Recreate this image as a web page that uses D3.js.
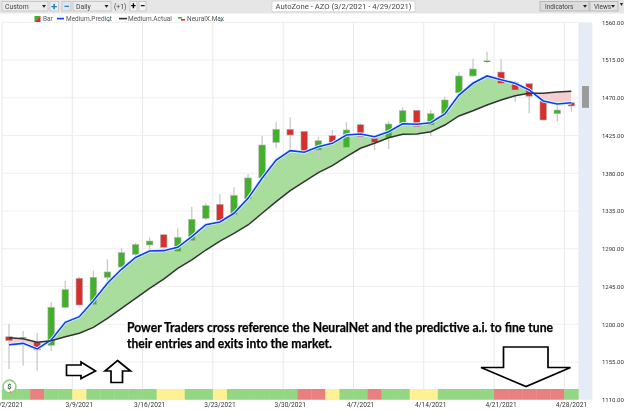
<!DOCTYPE html>
<html><head><meta charset="utf-8">
<script src="https://cdn.jsdelivr.net/npm/d3@7/dist/d3.min.js"></script>
<style>html,body{margin:0;padding:0;background:#fff;overflow:hidden}svg{display:block}text{font-family:Roboto,"Noto Sans",sans-serif}</style>
</head><body><svg id="c" width="624" height="412"></svg>
<script>
const dates=["3/2/2021","3/3/2021","3/4/2021","3/5/2021","3/8/2021","3/9/2021","3/10/2021","3/11/2021","3/12/2021","3/15/2021","3/16/2021","3/17/2021","3/18/2021","3/19/2021","3/22/2021","3/23/2021","3/24/2021","3/25/2021","3/26/2021","3/29/2021","3/30/2021","3/31/2021","4/1/2021","4/5/2021","4/6/2021","4/7/2021","4/8/2021","4/9/2021","4/12/2021","4/13/2021","4/14/2021","4/15/2021","4/16/2021","4/19/2021","4/20/2021","4/21/2021","4/22/2021","4/23/2021","4/26/2021","4/27/2021","4/28/2021"];
const tickDates=["3/2/2021","3/9/2021","3/16/2021","3/23/2021","3/30/2021","4/7/2021","4/14/2021","4/21/2021","4/28/2021"];
const priceTicks=[1110,1155,1200,1245,1290,1335,1380,1425,1470,1515,1560];
const opens=[1185.1,1183.4,1178.8,1174.9,1220.2,1254.8,1223.3,1255.9,1268.2,1283.4,1294.5,1306.7,1286.9,1299.6,1326.3,1343,1330.6,1349.3,1374.4,1416.9,1432.4,1430,1407.7,1424.8,1411,1437.9,1421.7,1422.4,1439.6,1455.1,1437.5,1450.7,1476.1,1496,1512.7,1500.7,1488,1486.8,1466.2,1451,1464.1];
const closes=[1180.4,1184.4,1169.3,1220.2,1241.2,1222.9,1255.9,1262.3,1285.3,1295.1,1299.2,1291.5,1303.6,1325.1,1341.3,1323.9,1353.7,1374.4,1413.7,1432.4,1425.6,1404.5,1418.8,1415.7,1431.6,1423.6,1416.9,1438.7,1454.6,1435.5,1451,1467.4,1496,1504.3,1514.2,1487.3,1479.3,1471.8,1443.5,1455.4,1460.2];
const highs=[1200.3,1191.9,1189.5,1226.5,1251.9,1256.7,1264.1,1277.4,1290.5,1296.8,1303.6,1307.6,1314.4,1340.1,1344.2,1354.9,1363.3,1379.1,1424.4,1440.8,1446.7,1430,1423.6,1431.6,1440.8,1439.6,1421.7,1442,1458.7,1455.1,1455.4,1471.3,1500.4,1516.6,1525,1515.9,1490.4,1486.8,1466.2,1461.4,1464.1];
const lows=[1146.6,1150.5,1144.6,1168.1,1220.2,1222.1,1213.7,1251.5,1264.7,1277.4,1279.6,1286.5,1286.5,1293.3,1324.3,1323.1,1328.2,1344.2,1372,1409.8,1405.7,1403,1396.6,1414.9,1409.8,1413.7,1407.7,1408.9,1433.6,1428.8,1424.4,1449.5,1473.3,1495.1,1511.1,1483.2,1465.3,1451.5,1443.5,1441.5,1453.4];
const predict=[1175.6,1177.2,1170.5,1181.2,1202.3,1209,1228,1248.8,1265.5,1279.6,1287.3,1287.7,1291.7,1304.4,1318.7,1321.9,1332.3,1350.1,1374,1395.8,1406.9,1405,1411.7,1415.7,1425.6,1426.8,1423.6,1429.6,1439.1,1438.4,1440.3,1450.7,1473.3,1487.3,1496,1491.6,1487.3,1479.3,1466.2,1462.6,1464.1];
const actual=[1183.9,1182.7,1178.4,1180.4,1185.1,1189.2,1196.3,1207.1,1219,1230.9,1242.8,1253.9,1266.7,1276.6,1288.5,1299.2,1308.4,1318.3,1332.3,1346.1,1359.2,1369.9,1380.7,1389,1399.8,1409.8,1415.7,1422.4,1426.5,1426.8,1429.6,1437.5,1448.3,1454.6,1461.4,1467.4,1472.5,1475.3,1475.3,1476.9,1477.7];
const neural=["g","g","r","g","g","y","g","g","g","g","g","y","y","g","g","y","g","g","g","g","g","r","r","y","g","g","r","g","g","y","y","g","g","g","g","r","r","r","r","r","g"];
const legendLabels=["Bar","Medium.Predict","Medium.Actual","NeuralX.Max"];
const noteLines=["Power Traders cross reference the NeuralNet and the predictive a.i. to fine tune","their entries and exits into the market."];

const svg=d3.select("#c");
const defs=svg.append("defs");
defs.append("filter").attr("id","soft").attr("x","-2%").attr("y","-2%").attr("width","104%").attr("height","104%").append("feGaussianBlur").attr("stdDeviation",0.35);
const root=svg.append("g").attr("filter","url(#soft)");
root.append("rect").attr("width",624).attr("height",412).attr("fill","#fff");

const x=d3.scaleBand().domain(dates).range([2,578.4]);
const y=d3.scaleLinear().domain([1110,1560]).range([399.7,22.3]);
const cx=d=>x(d)+x.bandwidth()/2;
const plotBottom=y(1110),plotTop=y(1560);
const idx=d3.range(dates.length);

// side strip + handle
root.append("rect").attr("x",578.4).attr("y",plotTop).attr("width",14).attr("height",plotBottom-plotTop).attr("fill","#e6ecf5");
root.append("rect").attr("x",582).attr("y",y(1484)).attr("width",7).attr("height",y(1458)-y(1484)).attr("fill","#9b9b9b");

// grid
root.append("g").selectAll("line").data(priceTicks).join("line")
 .attr("x1",2).attr("x2",578.4).attr("y1",d=>y(d)).attr("y2",d=>y(d)).attr("stroke","#efefef");
root.append("g").selectAll("line").data(tickDates).join("line")
 .attr("x1",d=>x(d)).attr("x2",d=>x(d)).attr("y1",plotTop).attr("y2",plotBottom).attr("stroke","#e9e9e9");

// fill between predict and actual
const band=d3.area().x(i=>cx(dates[i])).y0(i=>y(predict[i])).y1(i=>y(actual[i]));
const above=d3.area().x(i=>cx(dates[i])).y0(plotTop).y1(i=>y(actual[i]));
const below=d3.area().x(i=>cx(dates[i])).y0(plotBottom).y1(i=>y(actual[i]));
defs.append("clipPath").attr("id","ab").append("path").attr("d",above(idx));
defs.append("clipPath").attr("id","be").append("path").attr("d",below(idx));
root.append("path").attr("d",band(idx)).attr("fill","#a9dd9d").attr("clip-path","url(#ab)");
root.append("path").attr("d",band(idx)).attr("fill","#f5cfcf").attr("clip-path","url(#be)");

// candles
const cand=root.append("g").selectAll("g").data(idx).join("g");
cand.append("line").attr("x1",i=>cx(dates[i])).attr("x2",i=>cx(dates[i]))
 .attr("y1",i=>y(highs[i])).attr("y2",i=>y(lows[i])).attr("stroke","#c9c9c9").attr("stroke-width",1.3);
cand.append("rect").attr("x",i=>cx(dates[i])-3.3).attr("width",6.6)
 .attr("y",i=>y(Math.max(opens[i],closes[i]))).attr("height",i=>Math.max(1,Math.abs(y(opens[i])-y(closes[i]))))
 .attr("fill",i=>closes[i]>=opens[i]?"#43b02a":"#d92e2e").attr("stroke",i=>Math.abs(opens[i]-closes[i])<2?"none":"#b5b5b5").attr("stroke-width",0.6);

// lines
const line=a=>d3.line().x(i=>cx(dates[i])).y(i=>y(a[i]))(idx);
root.append("path").attr("d",line(predict)).attr("fill","none").attr("stroke","#d6f8ff").attr("stroke-width",3.4);
root.append("path").attr("d",line(actual)).attr("fill","none").attr("stroke","#333").attr("stroke-width",1.5);
root.append("path").attr("d",line(predict)).attr("fill","none").attr("stroke","#1238f0").attr("stroke-width",1.6);

// neural band
const col={g:"#93d684",r:"#e88080",y:"#fdf193"};
root.append("g").selectAll("rect").data(idx).join("rect")
 .attr("x",i=>x(dates[i])).attr("width",x.bandwidth()+0.3).attr("y",389).attr("height",plotBottom-389)
 .attr("fill",i=>col[neural[i]]);

// axes
const gy=root.append("g").attr("transform","translate(592,0)").call(d3.axisRight(y).tickValues(priceTicks).tickSize(0).tickPadding(10).tickFormat(d3.format(".2f")));
gy.select(".domain").remove();
gy.selectAll("text").attr("font-size",6).attr("fill","#333").attr("style","font-family:Roboto");
const gx=root.append("g").attr("transform",`translate(0,${plotBottom+0.5})`).call(d3.axisBottom(x).tickValues(tickDates).tickSize(0).tickPadding(2));
gx.select(".domain").remove();
gx.selectAll("text").attr("font-size",6.6).attr("fill","#333").attr("style","font-family:Roboto");

// logo
root.append("circle").attr("cx",9.5).attr("cy",386.5).attr("r",6.4).attr("fill","#fff").attr("stroke","#8fd07f").attr("stroke-width",1.6);
root.append("text").attr("x",9.5).attr("y",389).attr("text-anchor","middle").attr("font-size",7.5).attr("font-weight",700).attr("fill","#3d5a3d").text("$");
root.append("circle").attr("cx",10.5).attr("cy",392).attr("r",0.9).attr("fill","#e88080");

// annotation arrows
const arrow=d3.line();
const arrows=[
 [[66.5,365],[81,365],[81,362],[95.5,371],[81,378.5],[81,375.5],[66.5,375.5]],
 [[117.5,360.5],[130.5,371],[122.5,371],[122.5,382.5],[111,382.5],[111,371],[105,371]],
 [[503.5,347],[548,347],[548,367.5],[570.5,367.5],[526,386.5],[481,367.5],[503.5,367.5]]
];
root.append("g").selectAll("path").data(arrows).join("path").attr("d",d=>arrow(d)+"Z").attr("fill","#fff").attr("stroke","#000").attr("stroke-width",1.7);

// note
root.append("g").selectAll("text").data(noteLines).join("text").attr("x",127).attr("y",(d,i)=>332+i*15.5)
 .text(d=>d).attr("style",'font-family:Lato').attr("font-weight",700).attr("font-size",12.5).attr("fill","#000")
 .attr("stroke","#000").attr("stroke-width",0.25)
 .attr("textLength",(d,i)=>i?205:426).attr("lengthAdjust","spacingAndGlyphs");

// toolbar
const tb=root.append("g");
tb.append("rect").attr("width",624).attr("height",13.5).attr("fill","#e6e6e6");
function box(x0,x1,fill,stroke){tb.append("rect").attr("x",x0).attr("y",1.5).attr("width",x1-x0).attr("height",9.5).attr("fill",fill).attr("stroke",stroke||"#bcbcbc").attr("stroke-width",0.7);}
function txt(s,px,size,anchor,f,w){const t=tb.append("text").attr("x",px).attr("y",9).attr("font-size",size).attr("fill",f||"#444").attr("text-anchor",anchor||"start").text(s);if(w)t.attr("font-weight",w);return t;}
function tri(px,py){tb.append("path").attr("d",d3.line()([[px-2,py-1.2],[px+2,py-1.2],[px,py+1.5]])+"Z").attr("fill","#222");}
box(2,48,"#ececec");txt("Custom",5,6.8);tri(44,6.3);
box(50,58.5,"#f0f0f0");txt("+",54.2,11.5,"middle","#1f7fc4",700).attr("y",10);
box(62,71,"#dfe7ee");txt("−",66.5,11,"middle","#1f7fc4",700).attr("y",10);
box(73,111,"#ececec");txt("Daily",76,6.8);tri(106.5,6.3);
txt("(+1)",114,6.8);
box(130,137,"#f4f4f4");txt("+",133.5,9,"middle","#000",900).attr("y",9.2);
box(139,146,"#f4f4f4");txt("−",142.5,9,"middle","#000",900).attr("y",9.2);
tb.append("rect").attr("x",272).attr("y",1).attr("width",143).attr("height",10.8).attr("rx",1).attr("fill","#fff").attr("stroke","#c9c9c9").attr("stroke-width",0.7);
txt("AutoZone - AZO (3/2/2021 - 4/29/2021)",343.5,8,"middle","#444").attr("y",9.4).attr("textLength",136).attr("lengthAdjust","spacingAndGlyphs");
box(540,589,"#dcdcdc","#a8a8a8");txt("Indicators",545,6.4);tri(585,6.3);
box(590,618,"#e2e2e2","#a8a8a8");txt("Views",594,6.4);tri(613,6.3);
txt("▾",619.5,6,"start","#222").attr("y",6);

// legend
const lg=root.append("g");
const ly=21.2;
lg.append("path").attr("d",d3.line()([[34.5,16],[40.5,16],[34.5,22]])+"Z").attr("fill","#3fae2a");
lg.append("path").attr("d",d3.line()([[40.5,16],[40.5,22],[34.5,22]])+"Z").attr("fill","#d92e2e");
const legendX=[43,66,128,187];
lg.selectAll("text").data(legendLabels).join("text").attr("x",(d,i)=>legendX[i]).attr("y",ly).attr("font-size",6.5).attr("fill","#555").text(d=>d);
lg.append("rect").attr("x",57).attr("y",17.8).attr("width",7).attr("height",1.6).attr("fill","#1238f0");
lg.append("rect").attr("x",119).attr("y",17.8).attr("width",8).attr("height",1.6).attr("fill","#333");
lg.append("rect").attr("x",178).attr("y",17).attr("width",4).attr("height",1.6).attr("fill","#3fae2a");
lg.append("rect").attr("x",181).attr("y",19).attr("width",4).attr("height",1.6).attr("fill","#d92e2e");
[108.7,221.5].forEach(px=>lg.append("circle").attr("cx",px).attr("cy",20.5).attr("r",1).attr("fill","#2a8fb5"));
</script></body></html>
